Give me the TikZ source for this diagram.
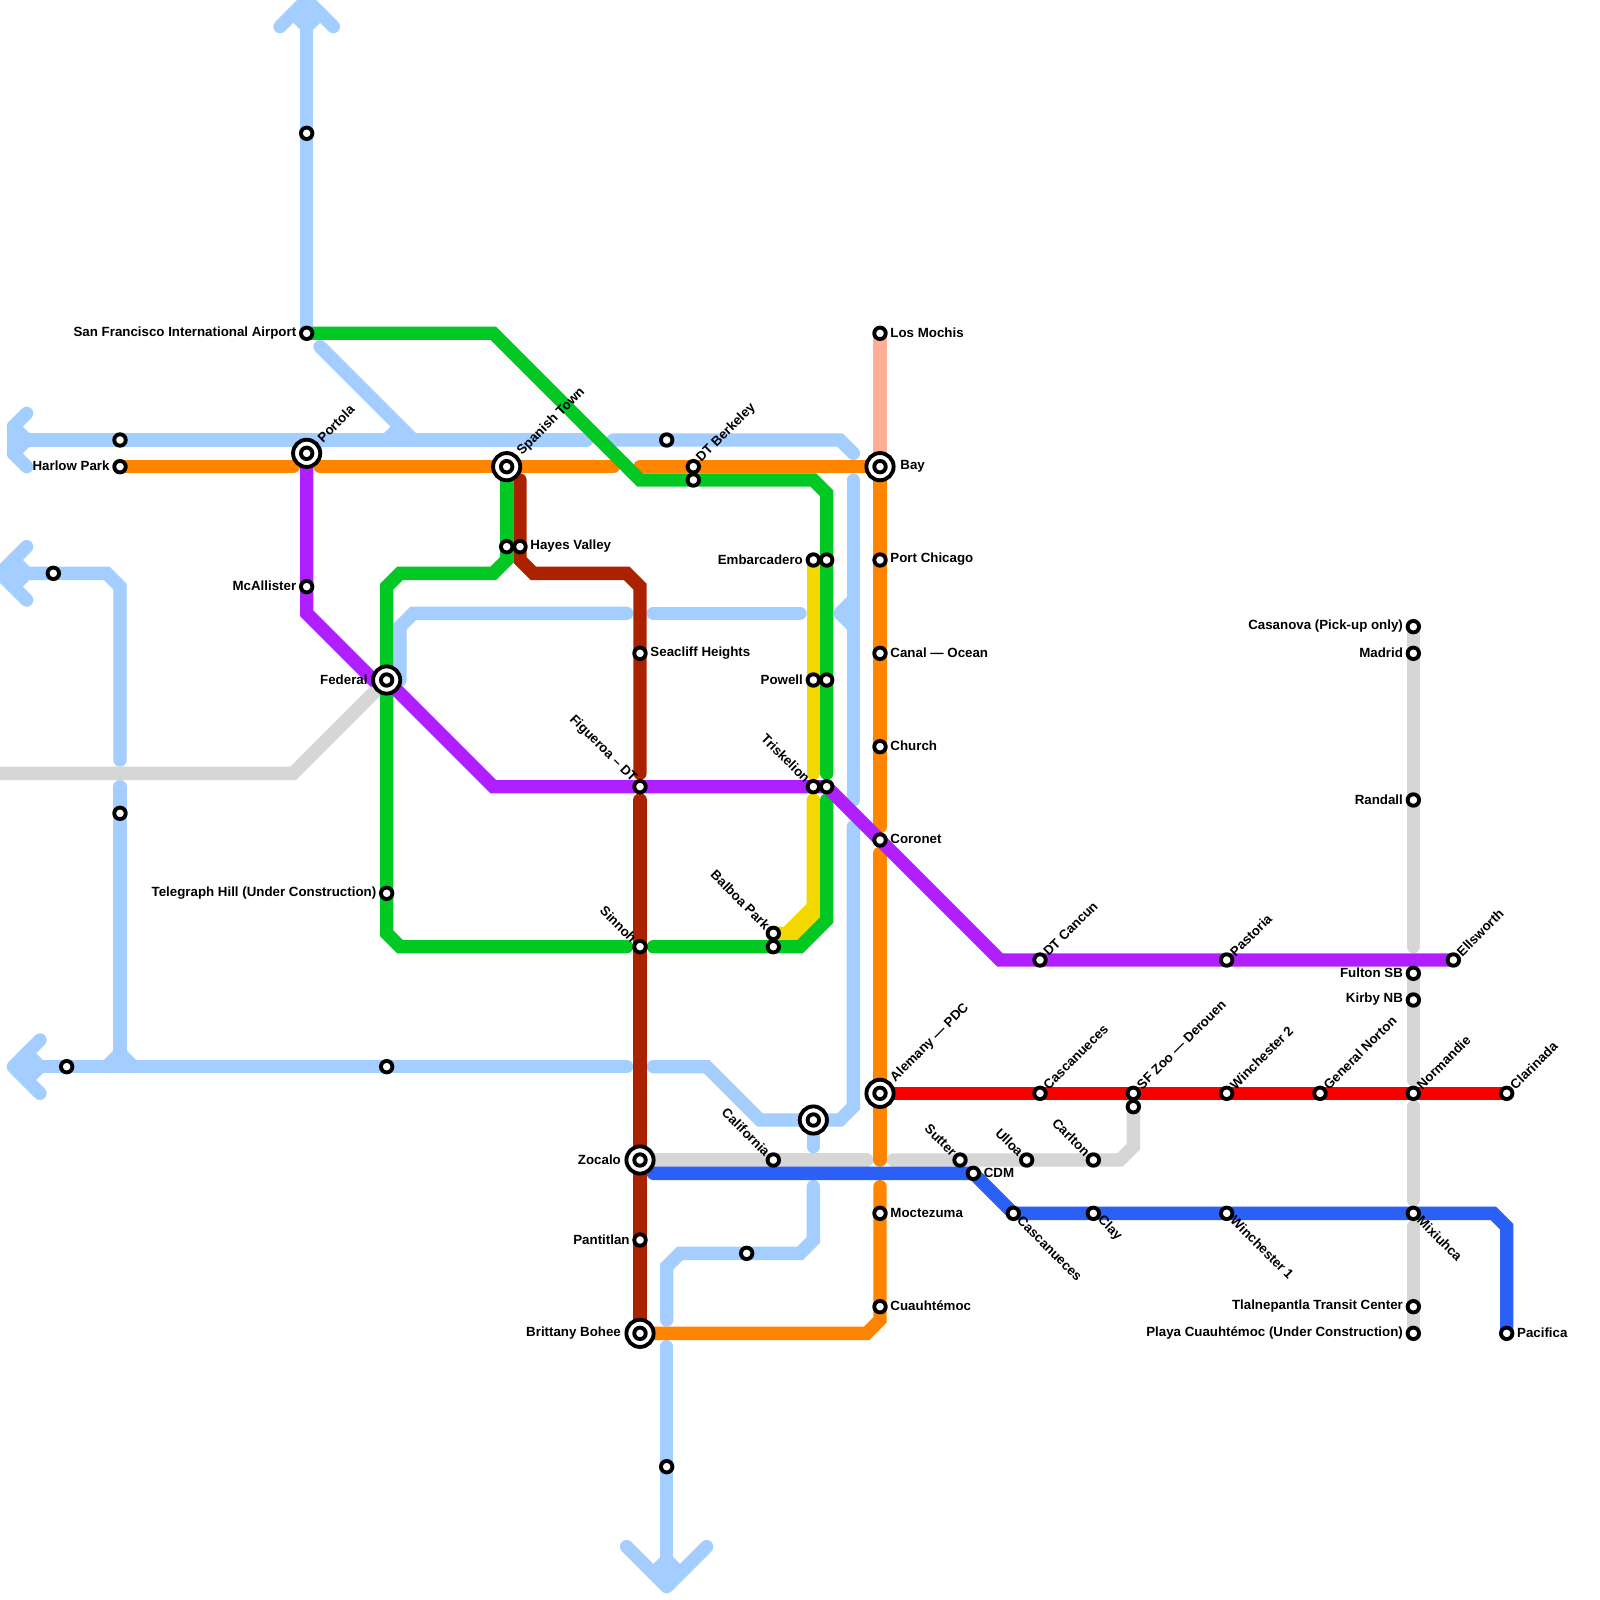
\documentclass[tikz,border=0pt]{standalone}
\usepackage{fontspec}
\setmainfont{Liberation Sans}
\usetikzlibrary{backgrounds,calc}
\definecolor{ltblue}{HTML}{A3CEFF}
\definecolor{morange}{HTML}{FF8400}
\definecolor{mgreen}{HTML}{02C823}
\definecolor{mpurple}{HTML}{B01FFF}
\definecolor{mmaroon}{HTML}{AA2200}
\definecolor{mgold}{HTML}{F3D800}
\definecolor{mred}{HTML}{F80000}
\definecolor{mblue}{HTML}{2A60F5}
\definecolor{mgrey}{HTML}{D6D6D6}
\definecolor{msalmon}{HTML}{FFAD94}
\tikzset{
  stop/.style={circle,draw=black,fill=white,line width=0.058cm,minimum size=0.172cm,inner sep=0pt},
  hubring/.style={circle,draw=black,fill=white,line width=0.058cm,minimum size=0.408cm,inner sep=0pt},
  lab/.style={inner sep=0pt,font=\fontsize{5.68}{6.5}\selectfont\bfseries,text=black},
  rail/.style={line width=0.2cm,line cap=round,line join=miter},
  tip/.style={rail,line join=round},
}
\newcommand{\stn}[3]{\node[stop] (#1) at (#2,#3) {};}
\newcommand{\hub}[3]{\node[hubring] (#1) at (#2,#3) {}; \node[stop] (#1i) at (#1.center) {};}
% labels
\newcommand{\lblR}[2]{\node[lab,anchor=west] (#1L) at ($(#1.center)+(0.75,-0.05)$) {#2};}
\newcommand{\lblL}[2]{\node[lab,anchor=east] (#1L) at ($(#1.center)+(-0.75,-0.05)$) {#2};}
\newcommand{\lblNE}[2]{\node[lab,anchor=west,rotate=45] (#1L) at ($(#1.center)+(0.4,-0.45)$) {#2};}
\newcommand{\lblSE}[2]{\node[lab,anchor=west,rotate=-45] (#1L) at ($(#1.center)+(0.45,0.35)$) {#2};}
\newcommand{\lblNW}[2]{\node[lab,anchor=east,rotate=-45] (#1L) at ($(#1.center)+(-0.4,-0.45)$) {#2};}
\newcommand{\lblHubNE}[2]{\node[lab,anchor=west,rotate=45] (#1L) at ($(#1.center)+(0.95,-1.0)$) {#2};}
\begin{document}
\begin{tikzpicture}[x=0.2cm,y=-0.2cm]
\useasboundingbox (0,0) rectangle (120,120);
% ---------- stations ----------
\stn{a}{23}{10}
\stn{sfo}{23}{25}
\stn{b}{9}{33}
\stn{harlow}{9}{35}
\hub{portola}{23}{34}
\stn{c}{4}{43}
\stn{mcall}{23}{44}
\hub{federal}{29}{51}
\stn{d}{9}{61}
\stn{telegraph}{29}{67}
\stn{e}{5}{80}
\stn{f}{29}{80}
\hub{spanish}{38}{35}
\stn{hayesg}{38}{41}
\stn{hayes}{39}{41}
\stn{seacliff}{48}{49}
\stn{figueroa}{48}{59}
\stn{sinnoh}{48}{71}
\hub{zocalo}{48}{87}
\stn{pantitlan}{48}{93}
\hub{brittany}{48}{100}
\stn{g}{50}{33}
\stn{berkeley}{52}{35}
\stn{berkeleyg}{52}{36}
\stn{h}{50}{110}
\stn{embarc}{61}{42}
\stn{embarcg}{62}{42}
\stn{powell}{61}{51}
\stn{powellg}{62}{51}
\stn{trisk}{61}{59}
\stn{triskg}{62}{59}
\stn{balboa}{58}{70}
\stn{balboag}{58}{71}
\hub{k}{61}{84}
\stn{california}{58}{87}
\stn{m}{56}{94}
\stn{mochis}{66}{25}
\hub{bay}{66}{35}
\stn{chicago}{66}{42}
\stn{canal}{66}{49}
\stn{church}{66}{56}
\stn{coronet}{66}{63}
\hub{alemany}{66}{82}
\stn{moctezuma}{66}{91}
\stn{cuauh}{66}{98}
\stn{sutter}{72}{87}
\stn{cdm}{73}{88}
\stn{ulloa}{77}{87}
\stn{carlton}{82}{87}
\stn{cascb}{76}{91}
\stn{clay}{82}{91}
\stn{winone}{92}{91}
\stn{mixiuhca}{106}{91}
\stn{cancun}{78}{72}
\stn{pastoria}{92}{72}
\stn{ellsworth}{109}{72}
\stn{casca}{78}{82}
\stn{sfzoo}{85}{82}
\stn{sfzoog}{85}{83}
\stn{wintwo}{92}{82}
\stn{norton}{99}{82}
\stn{normandie}{106}{82}
\stn{clarinada}{113}{82}
\stn{casanova}{106}{47}
\stn{madrid}{106}{49}
\stn{randall}{106}{60}
\stn{fulton}{106}{73}
\stn{kirby}{106}{75}
\stn{tlal}{106}{98}
\stn{playa}{106}{100}
\stn{pacifica}{113}{100}
% ---------- labels ----------
\lblL{sfo}{San Francisco International Airport}
\lblL{harlow}{Harlow Park}
\lblHubNE{portola}{Portola}
\lblL{mcall}{McAllister}
\node[lab,anchor=east] (federalL) at ($(federal.center)+(-1.4,-0.05)$) {Federal};
\lblL{telegraph}{Telegraph Hill (Under Construction)}
\lblHubNE{spanish}{Spanish Town}
\lblR{hayes}{Hayes Valley}
\lblR{seacliff}{Seacliff Heights}
\lblNW{figueroa}{Figueroa – DT}
\lblNW{sinnoh}{Sinnoh}
\node[lab,anchor=east] (zocaloL) at ($(zocalo.center)+(-1.4,-0.05)$) {Zocalo};
\lblL{pantitlan}{Pantitlan}
\node[lab,anchor=east] (brittanyL) at ($(brittany.center)+(-1.4,-0.05)$) {Brittany Bohee};
\lblNE{berkeley}{DT Berkeley}
\lblL{embarc}{Embarcadero}
\lblL{powell}{Powell}
\lblNW{trisk}{Triskelion}
\lblNW{balboa}{Balboa Park}
\lblNW{california}{California}
\lblR{mochis}{Los Mochis}
\node[lab,anchor=west] (bayL) at ($(bay.center)+(1.5,-0.05)$) {Bay};
\lblR{chicago}{Port Chicago}
\lblR{canal}{Canal — Ocean}
\lblR{church}{Church}
\lblR{coronet}{Coronet}
\lblHubNE{alemany}{Alemany — PDC}
\lblR{moctezuma}{Moctezuma}
\lblR{cuauh}{Cuauhtémoc}
\lblNW{sutter}{Sutter}
\lblR{cdm}{CDM}
\lblNW{ulloa}{Ulloa}
\lblNW{carlton}{Carlton}
\lblSE{cascb}{Cascanueces}
\lblSE{clay}{Clay}
\lblSE{winone}{Winchester 1}
\lblSE{mixiuhca}{Mixiuhca}
\lblNE{cancun}{DT Cancun}
\lblNE{pastoria}{Pastoria}
\lblNE{ellsworth}{Ellsworth}
\lblNE{casca}{Cascanueces}
\lblNE{sfzoo}{SF Zoo — Derouen}
\lblNE{wintwo}{Winchester 2}
\lblNE{norton}{General Norton}
\lblNE{normandie}{Normandie}
\lblNE{clarinada}{Clarinada}
\lblL{casanova}{Casanova (Pick-up only)}
\lblL{madrid}{Madrid}
\lblL{randall}{Randall}
\lblL{fulton}{Fulton SB}
\lblL{kirby}{Kirby NB}
\lblL{tlal}{Tlalnepantla Transit Center}
\lblL{playa}{Playa Cuauhtémoc (Under Construction)}
\lblR{pacifica}{Pacifica}
% ---------- lines ----------
\begin{scope}[on background layer]
\fill[white] (0,0) rectangle (120,120);
% grey
\draw[rail,mgrey] (0,58) -- (22,58) -- (federal.center);
\draw[rail,mgrey] (zocalo.center) -- (65,87);
\draw[rail,mgrey] (67,87) -- (84,87) -- (85,86) -- (sfzoog.center);
\draw[rail,mgrey] (casanova.center) -- (106,71);
\draw[rail,mgrey] (fulton.center) -- (106,81);
\draw[rail,mgrey] (106,83) -- (106,90);
\draw[rail,mgrey] (106,92) -- (playa.center);
% light blue
\draw[rail,ltblue] (23,1) -- (sfo.center);
\draw[tip,ltblue] (21,2) -- (22,1) -- (23,2) -- (24,1) -- (25,2);
\draw[tip,ltblue] (22,1) -- (23,0) -- (24,1);
\draw[tip,ltblue] (2,31) -- (1,32) -- (2,33) -- (1,34) -- (2,35);
\draw[tip,ltblue] (1,32) -- (1,34);
\draw[rail,ltblue] (1,33) -- (44,33);
\draw[rail,ltblue] (24,26) -- (31,33);
\draw[rail,ltblue] (30,32) -- (29,33);
\draw[rail,ltblue] (46,33) -- (63,33) -- (64,34);
\draw[tip,ltblue] (2,41) -- (1,42) -- (2,43) -- (1,44) -- (2,45);
\draw[tip,ltblue] (1,42) -- (0,43) -- (1,44);
\draw[rail,ltblue] (1,43) -- (8,43) -- (9,44) -- (9,57);
\draw[rail,ltblue] (9,59) -- (9,80);
\draw[tip,ltblue] (8,80) -- (9,79) -- (10,80);
\draw[tip,ltblue] (3,78) -- (2,79) -- (3,80) -- (2,81) -- (3,82);
\draw[tip,ltblue] (2,79) -- (1,80) -- (2,81);
\draw[rail,ltblue] (2,80) -- (47,80);
\draw[rail,ltblue] (49,80) -- (53,80) -- (57,84) -- (63,84) -- (64,83) -- (64,62);
\draw[rail,ltblue] (64,36) -- (64,60);
\draw[tip,ltblue] (64,45) -- (63,46) -- (64,47);
\draw[rail,ltblue] (49,46) -- (60,46);
\draw[rail,ltblue] (47,46) -- (31,46) -- (30,47) -- (30,51);
\draw[rail,ltblue] (k.center) -- (61,86);
\draw[rail,ltblue] (61,89) -- (61,93) -- (60,94) -- (51,94) -- (50,95) -- (50,99);
\draw[rail,ltblue] (50,101) -- (50,118);
\draw[tip,ltblue] (47,116) -- (49,118) -- (50,117) -- (51,118) -- (53,116);
\draw[tip,ltblue] (49,118) -- (50,119) -- (51,118);
% salmon, orange
\draw[rail,msalmon] (mochis.center) -- (bay.center);
\draw[rail,morange] (harlow.center) -- (22,35);
\draw[rail,morange] (24,35) -- (46,35);
\draw[rail,morange] (48,35) -- (bay.center) -- (66,62);
\draw[rail,morange] (66,64) -- (66,87);
\draw[rail,morange] (66,89) -- (66,99) -- (65,100) -- (brittany.center);
% maroon
\draw[rail,mmaroon] (39,36) -- (39,42) -- (40,43) -- (47,43) -- (48,44) -- (48,58);
\draw[rail,mmaroon] (48,60) -- (brittany.center);
% gold
\draw[rail,mgold] (embarc.center) -- (61,58);
\draw[rail,mgold] (61,60) -- (61,69) -- (59,71);
\draw[rail,mgold] (61,68) -- (59,70) -- (balboa.center);
% green
\draw[rail,mgreen] (sfo.center) -- (37,25) -- (48,36) -- (61,36) -- (62,37) -- (62,58);
\draw[rail,mgreen] (62,60) -- (62,69) -- (60,71) -- (49,71);
\draw[rail,mgreen] (47,71) -- (30,71) -- (29,70) -- (29,44) -- (30,43) -- (37,43) -- (38,42) -- (spanish.center);
% red, blue
\draw[rail,mred] (alemany.center) -- (clarinada.center);
\draw[rail,mblue] (49,88) -- (73,88) -- (76,91) -- (112,91) -- (113,92) -- (pacifica.center);
% purple
\draw[rail,mpurple] (portola.center) -- (23,46) -- (28,51) -- (federal.center) -- (37,59) -- (trisk.center) -- (triskg.center) -- (75,72) -- (ellsworth.center);
\end{scope}
\end{tikzpicture}
\end{document}
